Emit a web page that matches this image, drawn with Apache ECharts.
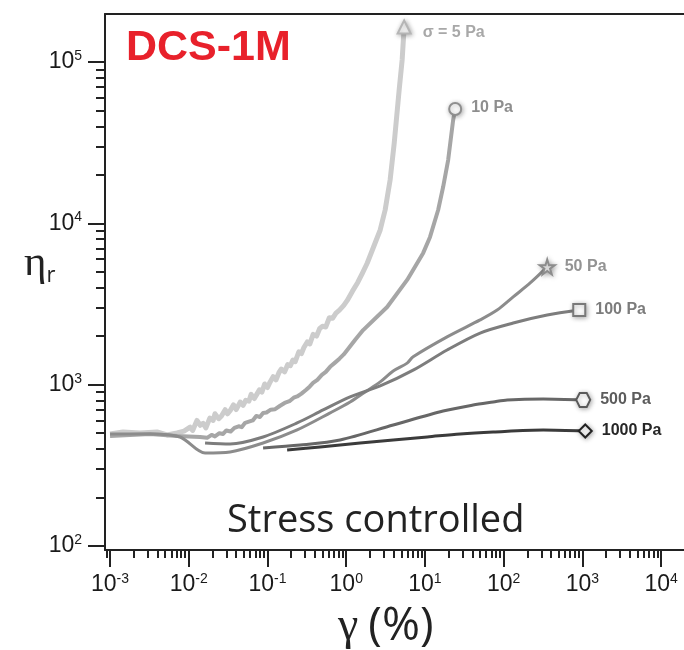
<!DOCTYPE html>
<html lang="en">
<head>
<meta charset="UTF-8">
<title>DCS-1M stress controlled</title>
<script src="https://cdn.jsdelivr.net/npm/echarts@6/dist/echarts.min.js"></script>
<style>
  html, body { margin: 0; background: #fff; }
  #main { width: 684px; height: 650px; }
</style>
</head>
<body>
<div id="main"></div>
<script>
// [strain gamma (%), relative viscosity eta_r]
var stress5 = [[0.001,495],[0.00146,509],[0.0024,502],[0.00395,509],[0.0053,488],[0.0071,502],
  [0.0087,515],[0.0104,545],[0.0112,520],[0.0127,600],[0.0140,560],[0.0152,575],[0.0165,540],
  [0.0185,620],[0.0204,600],[0.0215,660],[0.0240,615],[0.026,640],[0.029,700],[0.031,660],
  [0.0335,690],[0.037,750],[0.040,700],[0.045,780],[0.049,745],[0.053,800],[0.058,790],[0.062,870],
  [0.068,820],[0.074,880],[0.079,930],[0.085,900],[0.092,1010],[0.10,960],[0.108,1040],[0.118,1120],
  [0.128,1070],[0.14,1190],[0.15,1250],[0.165,1200],[0.18,1330],[0.195,1310],[0.21,1420],[0.225,1390],
  [0.25,1600],[0.27,1560],[0.29,1700],[0.32,1840],[0.345,1790],[0.38,2050],[0.42,2000],[0.46,2230],
  [0.50,2300],[0.55,2280],[0.61,2600],[0.67,2580],[0.74,2780],[0.82,2900],[0.93,3100],[1.03,3330],
  [1.2,3800],[1.4,4300],[1.6,4900],[1.85,5680],[2.70,9100],[3.12,12100],[3.61,18600],[4.07,31500],
  [4.70,67100],[5.13,103000],[5.44,165000]];
var stress10 = [[0.001,481],[0.00322,495],[0.0071,481],[0.0139,474],[0.0171,468],[0.0195,488],
  [0.0215,478],[0.0245,500],[0.0273,495],[0.030,520],[0.034,512],[0.038,540],[0.043,552],[0.047,545],
  [0.052,580],[0.058,590],[0.065,600],[0.072,640],[0.080,630],[0.0879,668],[0.097,672],[0.11,700],
  [0.125,705],[0.1446,740],[0.165,770],[0.19,790],[0.215,830],[0.238,845],[0.27,880],[0.31,930],
  [0.345,975],[0.379,1025],[0.43,1070],[0.49,1150],[0.55,1200],[0.624,1290],[0.72,1370],[0.82,1450],
  [0.93,1540],[1.03,1640],[1.3,1900],[1.64,2180],[3.31,3030],[5.94,4460],[9.5,6560],[11.6,8240],
  [14.7,12100],[17.0,16800],[19.7,24700],[22.8,43700],[24.2,51200]];
var stress50 = [[0.001,495],[0.00322,495],[0.00775,474],[0.0161,377],[0.0335,383],[0.0879,435],
  [0.238,524],[0.624,668],[1.12,781],[1.74,902],[2.7,1040],[3.95,1216],[5.94,1360],[7.08,1490],
  [19.1,1980],[50.2,2520],[82.6,2900],[132,3500],[217,4270],[357,5370]];
var stress100 = [[0.0161,435],[0.0335,429],[0.0879,474],[0.238,579],[0.509,697],[1.12,840],[2.7,982],
  [7.08,1230],[19.1,1640],[50.2,2090],[132,2410],[357,2700],[911,2900]];
var stress500 = [[0.0879,405],[0.26,422],[0.836,454],[3.95,562],[17.0,687],[40.9,748],[73.5,781],
  [111,804],[318,816],[1023,804]];
var stress1000 = [[0.1775,394],[0.466,411],[1.5,435],[3.95,454],[10.7,474],[28.0,495],[73.5,509],
  [318,524],[1086,516]];

var curveNames = ['σ = 5 Pa', '10 Pa', '50 Pa', '100 Pa', '500 Pa', '1000 Pa'];
var xDecades = [-3, -2, -1, 0, 1, 2, 3, 4];
var yDecades = [2, 3, 4, 5];

// axis extents in log10 units (axis lines run a little past the end decades)
var xMin = -3.064, xMax = 4.29;
var yMin = 1.975, yMax = 5.298;

function toLog(arr) {
  return arr.map(function (p) { return [Math.log10(p[0]), Math.log10(p[1])]; });
}
function minorTicks(lo, hi) {
  var out = [];
  for (var d = Math.floor(lo); d <= Math.ceil(hi); d++) {
    for (var k = 2; k <= 9; k++) {
      var v = d + Math.log10(k);
      if (v > lo && v < hi) out.push(v);
    }
  }
  return out;
}

var curves = [stress5, stress10, stress50, stress100, stress500, stress1000];
var lineColors = ['#cccccc', '#a6a6a6', '#8c8c8c', '#7d7d7d', '#676767', '#3b3b3b'];
var lineWidths = [5, 4, 3, 3, 3, 3];
var smoothness = [false, false, 0.3, 0.3, 0.3, 0.3];
var labelColors = ['#a8a8a8', '#8e8e8e', '#939393', '#7c7c7c', '#5c5c5c', '#262626'];
var markColors = ['#b5b5b5', '#8e8e8e', '#8c8c8c', '#7a7a7a', '#5a5a5a', '#222222'];
var starPath = 'path://M50 0 L61 35 L98 35 L68 56 L79 91 L50 70 L21 91 L32 56 L2 35 L39 35 Z';
var hexPath = 'path://M25 0 L75 0 L100 43 L75 87 L25 87 L0 43 Z';
var symbols = ['triangle', 'circle', starPath, 'rect', hexPath, 'diamond'];
var symbolSizes = [13, 12, 15, 12, 14, 13];
var labelOffsets = [[2, 6], [0, -1], [0, 0], [0, 0], [0, 0], [0, 0]];

var supLabel = function (v) { return '{b|10}{s|' + Math.round(v) + '}'; };
var tickRich = {
  b: { fontFamily: 'Liberation Sans', fontSize: 23, color: '#1a1a1a', lineHeight: 26 },
  s: { fontFamily: 'Liberation Sans', fontSize: 14, color: '#1a1a1a', lineHeight: 16, verticalAlign: 'top' }
};

var series = [];
curves.forEach(function (c, i) {
  series.push({
    name: curveNames[i],
    type: 'line',
    data: toLog(c),
    showSymbol: false,
    smooth: smoothness[i],
    lineStyle: { color: lineColors[i], width: lineWidths[i], join: 'round' },
    z: 2 + i
  });
});
curves.forEach(function (c, i) {
  series.push({
    type: 'scatter',
    data: toLog([c[c.length - 1]]),
    symbol: symbols[i],
    symbolSize: symbolSizes[i],
    itemStyle: {
      color: '#ffffff', opacity: 1, borderColor: markColors[i], borderWidth: 2,
      shadowBlur: 5, shadowColor: 'rgba(0,0,0,0.3)', shadowOffsetX: 1, shadowOffsetY: 1
    },
    label: {
      show: true, position: 'right', distance: 9, offset: labelOffsets[i],
      formatter: curveNames[i],
      fontFamily: 'Liberation Sans', fontWeight: 'bold', fontSize: 16, color: labelColors[i]
    },
    z: 10
  });
});

var chart = echarts.init(document.getElementById('main'));
chart.setOption({
  backgroundColor: '#ffffff',
  animation: false,
  grid: { left: 105, right: 0, top: 14, bottom: 100 },
  title: [
    { text: 'DCS-1M', left: 121, top: 22,
      textStyle: { fontFamily: 'Liberation Sans', fontWeight: 'bold', fontSize: 43, color: '#e8212b' } },
    { text: 'Stress controlled', left: 222, top: 497,
      textStyle: { fontFamily: 'Open Sans', fontWeight: 'normal', fontSize: 38, color: '#222' } },
    { text: '{g|γ}{p|(%)}', left: 333, top: 596,
      textStyle: { fontWeight: 'normal', rich: {
        g: { fontFamily: 'Liberation Serif', fontWeight: 'normal', fontSize: 46, color: '#222', lineHeight: 52, padding: [0, 10, 0, 0] },
        p: { fontFamily: 'Open Sans', fontWeight: 'normal', fontSize: 46, color: '#222', lineHeight: 52 } } } },
    { text: '{e|η}{r|r}', left: 19, top: 236,
      textStyle: { fontWeight: 'normal', rich: {
        e: { fontFamily: 'Liberation Serif', fontWeight: 'normal', fontSize: 43, color: '#222', lineHeight: 46 },
        r: { fontFamily: 'Open Sans', fontWeight: 'normal', fontSize: 22, color: '#222', verticalAlign: 'bottom', lineHeight: 22 } } } }
  ],
  xAxis: [
    { type: 'value', min: xMin, max: xMax, position: 'bottom',
      axisLine: { show: true, onZero: false, lineStyle: { color: '#222', width: 2 } },
      axisTick: { show: true, customValues: xDecades, length: 17, lineStyle: { color: '#222', width: 2 } },
      axisLabel: { show: true, customValues: xDecades, margin: 22, formatter: supLabel, rich: tickRich },
      splitLine: { show: false } },
    { type: 'value', min: xMin, max: xMax, position: 'bottom',
      axisLine: { show: false },
      axisTick: { show: true, customValues: minorTicks(xMin, xMax), length: 8, lineStyle: { color: '#222', width: 2 } },
      axisLabel: { show: false }, splitLine: { show: false } },
    { type: 'value', min: xMin, max: xMax, position: 'top',
      axisLine: { show: true, onZero: false, lineStyle: { color: '#222', width: 2 } },
      axisTick: { show: false }, axisLabel: { show: false }, splitLine: { show: false } }
  ],
  yAxis: [
    { type: 'value', min: yMin, max: yMax, position: 'left',
      axisLine: { show: true, onZero: false, lineStyle: { color: '#222', width: 2 } },
      axisTick: { show: true, customValues: yDecades, length: 17, lineStyle: { color: '#222', width: 2 } },
      axisLabel: { show: true, customValues: yDecades, margin: 23, formatter: supLabel, rich: tickRich },
      splitLine: { show: false } },
    { type: 'value', min: yMin, max: yMax, position: 'left',
      axisLine: { show: false, onZero: false },
      axisTick: { show: true, customValues: minorTicks(yMin, yMax), length: 9, lineStyle: { color: '#222', width: 2 } },
      axisLabel: { show: false }, splitLine: { show: false } }
  ],
  series: series
});
</script>
</body>
</html>
